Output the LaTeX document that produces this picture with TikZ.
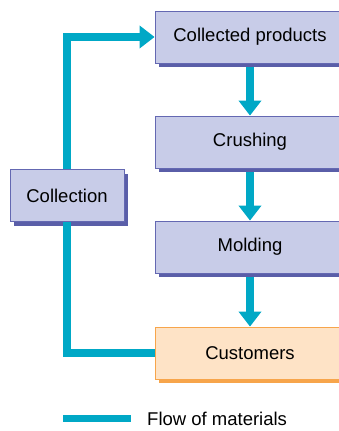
\documentclass[tikz,border=0pt]{standalone}
\usepackage{fontspec}
\setmainfont{Liberation Sans}
\usetikzlibrary{arrows.meta,calc}
\definecolor{boxfill}{HTML}{C8CCE8}
\definecolor{boxline}{HTML}{6468B2}
\definecolor{boxshadow}{HTML}{5A5EA8}
\definecolor{custfill}{HTML}{FEE3C6}
\definecolor{custline}{HTML}{F7A54B}
\definecolor{flow}{HTML}{00A8C6}
\tikzset{
  procbox/.style={draw=boxline, line width=0.8pt, fill=boxfill, minimum height=52pt, inner sep=0pt, font=\fontsize{18.5}{20}\selectfont},
  custbox/.style={procbox, draw=custline, fill=custfill},
  shadebox/.style={fill=#1, draw=none, minimum height=52pt, inner sep=0pt},
  flowline/.style={draw=flow, line width=8pt},
  flowarrow/.style={flowline, -{Triangle[width=22pt,length=15pt]}},
}
\begin{document}
\begin{tikzpicture}[x=1pt,y=-1pt]
\useasboundingbox (0,0) rectangle (339,431);
\clip (0,0) rectangle (339,431);
% shadows
\node[shadebox=boxshadow, minimum width=190pt] (cps) at (254,41) {};
\node[shadebox=boxshadow, minimum width=190pt] (crs) at (254,146) {};
\node[shadebox=boxshadow, minimum width=190pt] (mos) at (254,251) {};
\node[shadebox=custline, minimum width=190pt] (cus) at (254,357) {};
\node[shadebox=boxshadow, minimum width=114pt] (cos) at (71,199.5) {};
% boxes
\node[procbox, minimum width=190pt] (cp) at (250,37) {Collected products};
\node[procbox, minimum width=190pt] (cr) at (250,142) {Crushing};
\node[procbox, minimum width=190pt] (mo) at (250,247) {Molding};
\node[custbox, minimum width=190pt] (cu) at (250,353) {Customers};
\node[procbox, minimum width=114pt] (co) at (67,195.5) {Collection};
% flows
\draw[flowarrow] (cps.south -| cp.south) -- (cr.north);
\draw[flowarrow] (crs.south -| cr.south) -- (mo.north);
\draw[flowarrow] (mos.south -| mo.south) -- (cu.north);
\draw[flowarrow] (co.north) |- (cp.west);
\draw[flowline] (cu.west) -| (co.south);
% legend
\coordinate (l1) at (63,418.5);
\coordinate (l2) at (131,418.5);
\draw[flow, line width=7.5pt] (l1) -- (l2);
\node[anchor=west, inner sep=0pt, font=\fontsize{18.5}{20}\selectfont] (leg) at (147,419) {Flow of materials};
\end{tikzpicture}
\end{document}
